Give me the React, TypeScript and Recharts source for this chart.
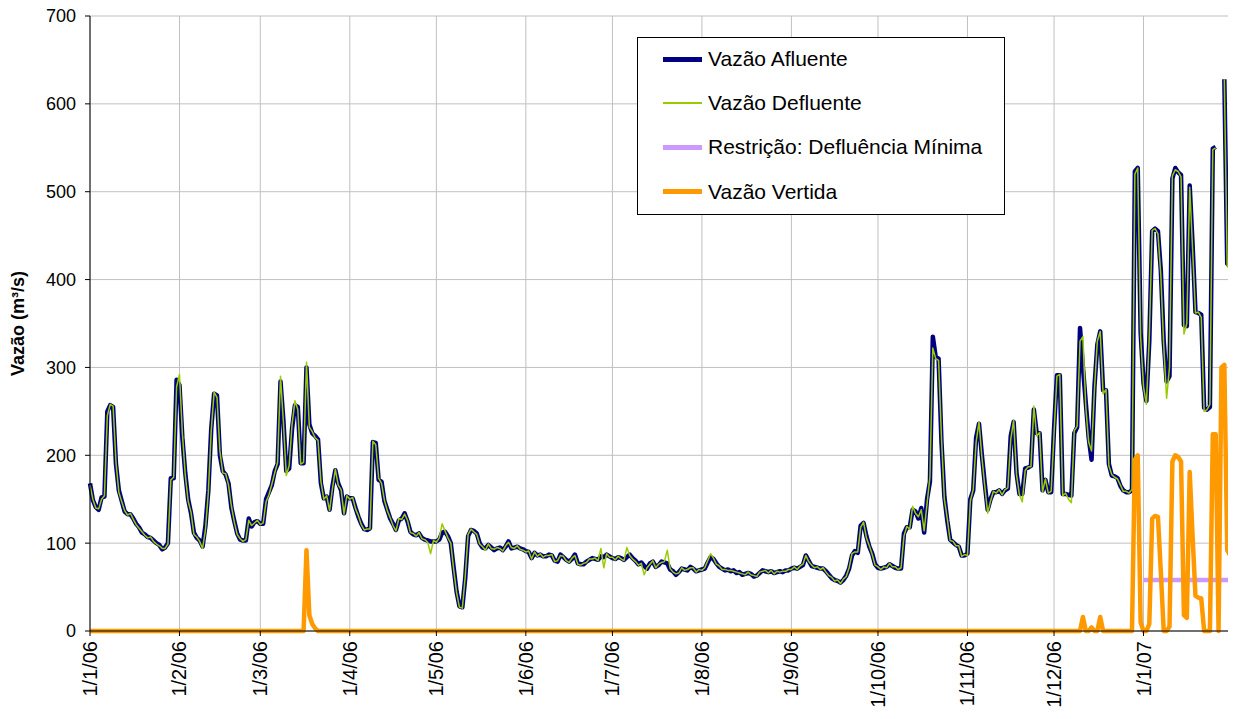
import { LineChart, Line, XAxis, YAxis, CartesianGrid, Legend } from "recharts";

const FONT = '"Liberation Sans", Arial, sans-serif';

// dias desde 1/1/06 onde começa cada mês
const mesTicks = [0, 31, 59, 90, 120, 151, 181, 212, 243, 273, 304, 334, 365, 396];
const mesLabels = ["1/1/06", "1/2/06", "1/3/06", "1/4/06", "1/5/06", "1/6/06", "1/7/06", "1/8/06", "1/9/06", "1/10/06", "1/11/06", "1/12/06", "1/1/07", ""];
const vazaoTicks = [0, 100, 200, 300, 400, 500, 600, 700];

// vazão afluente diária (m³/s), 1/1/06 a 1/2/07
const afluente: (number | null)[] = [
  // jan
  168, 149, 141, 138, 152, 153, 250, 257, 255, 190, 160, 148, 136, 133, 133, 128, 122, 118, 112, 110, 107, 106, 103, 100, 98, 93, 95, 100, 174, 174, 286,
  // fev
  280, 220, 180, 150, 134, 112, 106, 103, 96, 120, 160, 230, 270, 268, 200, 182, 178, 168, 140, 125, 111, 104, 103, 103, 128, 119, 124, 125,
  // mar
  122, 122, 150, 158, 166, 182, 190, 284, 240, 182, 185, 230, 257, 255, 191, 191, 300, 235, 225, 222, 218, 168, 151, 153, 138, 165, 183, 168, 160, 134, 153,
  // abr
  151, 151, 140, 130, 122, 116, 115, 117, 215, 214, 172, 170, 148, 138, 128, 122, 115, 126, 128, 134, 125, 113, 110, 109, 111, 106, 104, 103, 102, 102,
  // mai
  102, 104, 112, 113, 108, 100, 72, 45, 28, 27, 60, 108, 115, 114, 111, 100, 95, 94, 98, 95, 92, 94, 95, 92, 96, 102, 94, 95, 96, 94, 93,
  // jun
  91, 90, 83, 89, 86, 87, 85, 85, 87, 86, 80, 79, 87, 84, 81, 79, 82, 87, 77, 76, 76, 79, 81, 83, 82, 81, 85, 84, 87, 85,
  // jul
  83, 82, 84, 83, 81, 84, 87, 83, 80, 76, 78, 74, 71, 77, 79, 73, 75, 79, 78, 77, 70, 68, 64, 67, 71, 70, 69, 73, 71, 68, 69,
  // ago
  70, 71, 78, 84, 82, 77, 73, 71, 69, 70, 68, 69, 66, 67, 64, 65, 66, 65, 62, 63, 66, 69, 68, 67, 68, 66, 67, 68, 67, 69, 69,
  // set
  71, 72, 71, 73, 75, 86, 80, 74, 73, 72, 71, 71, 68, 64, 60, 58, 57, 55, 58, 63, 71, 86, 91, 89, 120, 123, 108, 96, 88, 76,
  // out
  72, 71, 72, 73, 76, 74, 72, 71, 71, 111, 118, 118, 138, 136, 128, 140, 112, 150, 170, 335, 312, 310, 215, 153, 126, 104, 101, 98, 96, 86, 86,
  // nov
  88, 150, 160, 220, 236, 200, 168, 138, 150, 158, 158, 160, 156, 160, 162, 222, 238, 180, 156, 156, 185, 186, 188, 252, 225, 225, 160, 172, 158, 158,
  // dez
  230, 291, 291, 156, 156, 155, 154, 225, 232, 345, 300, 260, 220, 195, 278, 326, 341, 274, 274, 190, 177, 176, 174, 165, 160, 158, 158, 160, 523, 527, 340,
  // jan/07
  282, 262, 330, 455, 458, 455, 410, 330, 284, 290, 515, 527, 522, 519, 348, 347, 507, 440, 363, 362, 360, 254, 252, 255, 549, 551, null, null, 628, 418, 416, 413,
];

// vazão defluente diária (m³/s)
const defluente: (number | null)[] = [
  166, 150, 140, 139, 150, 154, 245, 258, 256, 192, 158, 147, 137, 132, 134, 127, 121, 117, 113, 109, 106, 107, 102, 99, 97, 94, 94, 99, 172, 175, 278,
  292, 225, 178, 148, 135, 110, 107, 102, 94, 115, 158, 228, 272, 266, 205, 180, 179, 166, 142, 124, 110, 105, 102, 104, 126, 120, 123, 126,
  121, 123, 147, 155, 167, 180, 192, 290, 238, 177, 188, 235, 262, 252, 190, 192, 306, 232, 227, 220, 217, 170, 150, 154, 137, 162, 184, 166, 161, 133, 154,
  150, 152, 139, 131, 121, 115, 116, 116, 216, 212, 174, 168, 149, 137, 129, 120, 114, 128, 127, 133, 126, 112, 111, 108, 112, 105, 104, 101, 88, 103,
  101, 106, 122, 114, 106, 100, 70, 44, 27, 26, 62, 110, 116, 113, 110, 99, 96, 92, 99, 94, 93, 95, 94, 91, 97, 101, 95, 94, 97, 93, 92,
  90, 91, 82, 90, 85, 88, 84, 86, 86, 87, 79, 80, 86, 85, 80, 78, 83, 86, 76, 75, 77, 78, 82, 82, 83, 80, 94, 72, 88, 84,
  84, 81, 85, 82, 80, 95, 86, 82, 79, 75, 77, 64, 72, 76, 80, 72, 76, 78, 79, 92, 71, 67, 65, 66, 72, 69, 70, 72, 72, 67, 70,
  69, 72, 80, 88, 83, 76, 74, 70, 70, 69, 69, 68, 67, 66, 65, 64, 67, 64, 63, 62, 67, 68, 69, 66, 69, 65, 68, 67, 68, 68, 70,
  70, 73, 70, 74, 76, 86, 79, 75, 72, 73, 70, 72, 67, 63, 61, 57, 58, 54, 59, 62, 72, 88, 90, 90, 118, 124, 106, 97, 87, 75,
  73, 70, 73, 72, 77, 73, 73, 70, 72, 108, 119, 116, 142, 134, 130, 138, 114, 145, 175, 322, 310, 308, 220, 150, 128, 103, 102, 97, 97, 85, 87,
  86, 148, 161, 215, 238, 198, 165, 134, 148, 159, 157, 161, 155, 161, 163, 218, 240, 178, 155, 147, 183, 187, 187, 256, 222, 226, 158, 173, 157, 159,
  225, 290, 292, 154, 157, 150, 146, 228, 233, 330, 335, 255, 215, 205, 275, 330, 341, 270, 275, 188, 178, 175, 173, 166, 159, 159, 157, 161, 520, 527, 335,
  278, 258, 335, 456, 458, 452, 405, 325, 265, 300, 518, 525, 523, 517, 338, 350, 505, 435, 362, 363, 357, 250, 252, 258, 548, 550, null, null, 628, 415, 412, 405,
];

// vazão vertida diária (m³/s)
const vertida: number[] = [
  0, 0, 0, 0, 0, 0, 0, 0, 0, 0, 0, 0, 0, 0, 0, 0, 0, 0, 0, 0, 0, 0, 0, 0, 0, 0, 0, 0, 0, 0, 0,
  0, 0, 0, 0, 0, 0, 0, 0, 0, 0, 0, 0, 0, 0, 0, 0, 0, 0, 0, 0, 0, 0, 0, 0, 0, 0, 0, 0,
  0, 0, 0, 0, 0, 0, 0, 0, 0, 0, 0, 0, 0, 0, 0, 0, 92, 18, 8, 3, 0, 0, 0, 0, 0, 0, 0, 0, 0, 0, 0,
  0, 0, 0, 0, 0, 0, 0, 0, 0, 0, 0, 0, 0, 0, 0, 0, 0, 0, 0, 0, 0, 0, 0, 0, 0, 0, 0, 0, 0, 0,
  0, 0, 0, 0, 0, 0, 0, 0, 0, 0, 0, 0, 0, 0, 0, 0, 0, 0, 0, 0, 0, 0, 0, 0, 0, 0, 0, 0, 0, 0, 0,
  0, 0, 0, 0, 0, 0, 0, 0, 0, 0, 0, 0, 0, 0, 0, 0, 0, 0, 0, 0, 0, 0, 0, 0, 0, 0, 0, 0, 0, 0,
  0, 0, 0, 0, 0, 0, 0, 0, 0, 0, 0, 0, 0, 0, 0, 0, 0, 0, 0, 0, 0, 0, 0, 0, 0, 0, 0, 0, 0, 0, 0,
  0, 0, 0, 0, 0, 0, 0, 0, 0, 0, 0, 0, 0, 0, 0, 0, 0, 0, 0, 0, 0, 0, 0, 0, 0, 0, 0, 0, 0, 0, 0,
  0, 0, 0, 0, 0, 0, 0, 0, 0, 0, 0, 0, 0, 0, 0, 0, 0, 0, 0, 0, 0, 0, 0, 0, 0, 0, 0, 0, 0, 0,
  0, 0, 0, 0, 0, 0, 0, 0, 0, 0, 0, 0, 0, 0, 0, 0, 0, 0, 0, 0, 0, 0, 0, 0, 0, 0, 0, 0, 0, 0, 0,
  0, 0, 0, 0, 0, 0, 0, 0, 0, 0, 0, 0, 0, 0, 0, 0, 0, 0, 0, 0, 0, 0, 0, 0, 0, 0, 0, 0, 0, 0,
  0, 0, 0, 0, 0, 0, 0, 0, 0, 0, 16, 0, 0, 4, 0, 0, 16, 0, 0, 0, 0, 0, 0, 0, 0, 0, 0, 0, 195, 200, 10,
  0, 0, 8, 128, 131, 130, 67, 0, 0, 5, 193, 200, 198, 193, 18, 15, 181, 108, 40, 38, 37, 0, 0, 0, 224, 224, 0, 300, 303, 92, 86, 83,
];

// restrição de defluência mínima, a partir de 1/1/07
const inicioRestricao = 365;
const restricao = [
  58, 58, 58, 58, 58, 58, 58, 58, 58, 58, 58, 58, 58, 58, 58, 58,
  58, 58, 58, 58, 58, 58, 58, 58, 58, 58, 58, 58, 58, 58, 58, 58,
];

const series = [
  { key: "afluente", name: "Vazão Afluente", color: "#000080", width: 4.5, legendWidth: 5 },
  { key: "defluente", name: "Vazão Defluente", color: "#99cc00", width: 1.5, legendWidth: 2 },
  { key: "restricao", name: "Restrição: Defluência Mínima", color: "#cc99ff", width: 4.5, legendWidth: 5 },
  { key: "vertida", name: "Vazão Vertida", color: "#ff9900", width: 4.5, legendWidth: 5 },
];

const rows = afluente.map((v, i) => ({
  dia: i,
  afluente: v,
  defluente: defluente[i],
  restricao: i >= inicioRestricao ? restricao[i - inicioRestricao] : null,
  vertida: vertida[i],
}));

function XTick(props: any) {
  const { x, y, payload } = props;
  const label = mesLabels[mesTicks.indexOf(payload.value)] ?? "";
  const ty = y + 3;
  return (
    <text
      x={x}
      y={ty}
      transform={`rotate(-90, ${x}, ${ty})`}
      textAnchor="end"
      dominantBaseline="central"
      fontFamily={FONT}
      fontSize={20}
      fill="#000"
    >
      {label}
    </text>
  );
}

function YLabel(props: any) {
  const vb = props.viewBox || { x: 0, y: 8, width: 82, height: 615 };
  const cx = vb.x + 10;
  const cy = vb.y + vb.height / 2;
  return (
    <text
      x={cx}
      y={cy}
      transform={`rotate(-90, ${cx}, ${cy})`}
      textAnchor="middle"
      dominantBaseline="central"
      fontFamily={FONT}
      fontSize={18}
      fontWeight="bold"
      fill="#000"
    >
      Vazão (m³/s)
    </text>
  );
}

// legenda na ordem das séries (a do Recharts vem ordenada por nome)
function LegendBox() {
  return (
    <div
      style={{
        width: 366,
        height: 176,
        border: "1px solid #000",
        background: "#fff",
        position: "relative",
        fontFamily: FONT,
        fontSize: 21,
        color: "#000",
      }}
    >
      {series.map((s, i) => (
        <div
          key={s.key}
          style={{
            position: "absolute",
            left: 0,
            top: 21 + i * 44.2 - 15,
            height: 30,
            display: "flex",
            alignItems: "center",
            whiteSpace: "nowrap",
          }}
        >
          <span style={{ display: "inline-block", marginLeft: 25, width: 39, height: s.legendWidth, background: s.color }} />
          <span style={{ marginLeft: 6 }}>{s.name}</span>
        </div>
      ))}
    </div>
  );
}

export default function App() {
  return (
    <div style={{ width: 1228, height: 711, fontFamily: FONT }}>
      <LineChart width={1228} height={711} data={rows} margin={{ top: 8, right: 3, left: 0, bottom: 0 }}>
        <CartesianGrid stroke="#c0c0c0" strokeWidth={1} />
        <XAxis
          dataKey="dia"
          type="number"
          domain={[0, 396]}
          ticks={mesTicks}
          interval={0}
          height={88}
          tickSize={5}
          tick={<XTick />}
          axisLine={{ stroke: "#000" }}
          tickLine={{ stroke: "#000" }}
        />
        <YAxis
          domain={[0, 700]}
          ticks={vazaoTicks}
          interval={0}
          width={82}
          tickSize={5}
          tickMargin={9}
          tick={{ fontSize: 18, fill: "#000", fontFamily: FONT }}
          axisLine={{ stroke: "#000" }}
          tickLine={{ stroke: "#000" }}
          label={{ content: YLabel }}
        />
        <Legend
          layout="horizontal"
          verticalAlign="middle"
          align="center"
          content={LegendBox}
          wrapperStyle={{ left: 629, top: 29, width: 368, height: 178 }}
        />
        {series.map((s) => (
          <Line
            key={s.key}
            type="linear"
            dataKey={s.key}
            name={s.name}
            stroke={s.color}
            strokeWidth={s.width}
            strokeLinejoin="round"
            dot={false}
            activeDot={false}
            isAnimationActive={false}
          />
        ))}
      </LineChart>
    </div>
  );
}
